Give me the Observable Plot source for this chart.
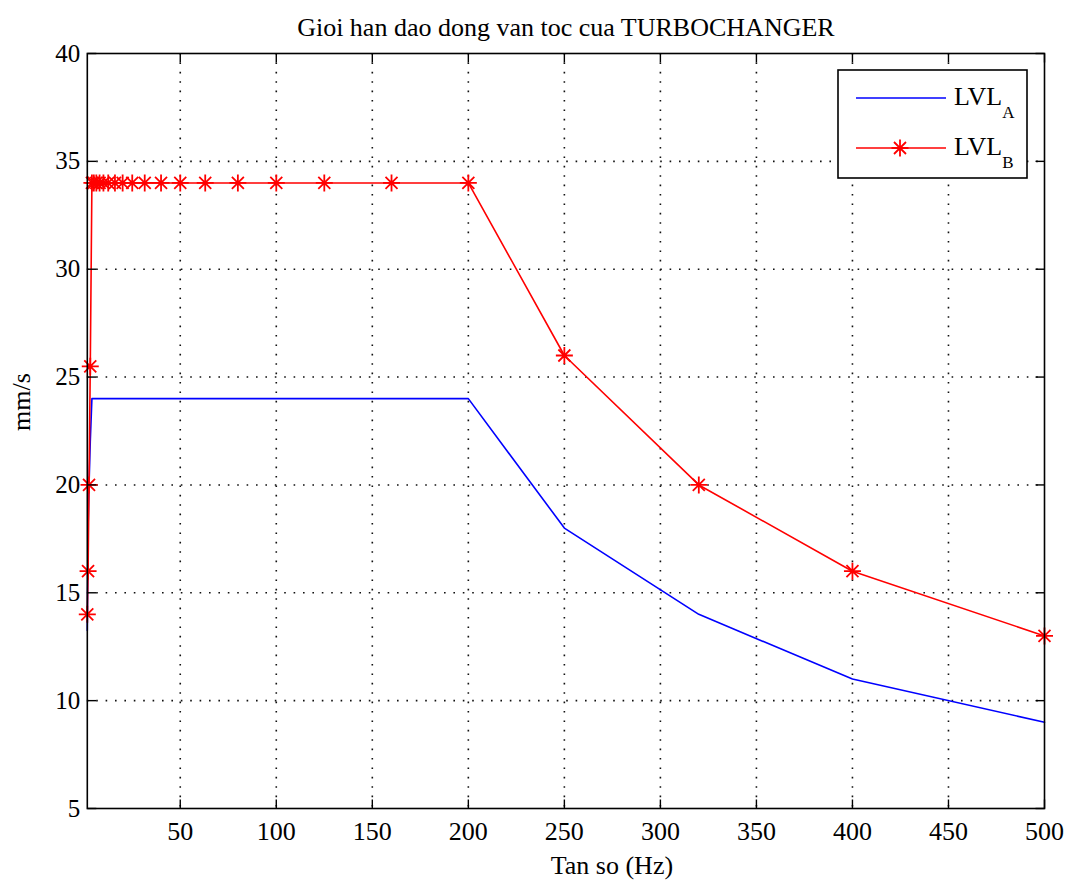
<!DOCTYPE html>
<html>
<head>
<meta charset="utf-8">
<script src="https://cdn.jsdelivr.net/npm/d3@7"></script>
<script src="https://cdn.jsdelivr.net/npm/@observablehq/plot@0.6"></script>
<style>
  html, body { margin: 0; padding: 0; background: #ffffff; }
  #chart { width: 1068px; height: 883px; }
</style>
</head>
<body>
<div id="chart"></div>
<script>
// ---- data ----
const title = "Gioi han dao dong van toc cua TURBOCHANGER";
const xLabel = "Tan so (Hz)";
const yLabel = "mm/s";
const seriesNames = ["LVL", "LVL"];
const seriesSubs = ["A", "B"];
const seriesColors = ["#0000ff", "#ff0000"];

const freq = [1.6, 2, 2.5, 3.15, 4, 5, 6.3, 8, 10, 12.5, 16, 20, 25, 31.5, 40, 50, 63, 80, 100, 125, 160, 200, 250, 320, 400, 500];
const lvlA = [13.25, 18, 20, 22, 24, 24, 24, 24, 24, 24, 24, 24, 24, 24, 24, 24, 24, 24, 24, 24, 24, 24, 18, 14, 11, 9];
const lvlB = [14, 16, 20, 25.5, 34, 34, 34, 34, 34, 34, 34, 34, 34, 34, 34, 34, 34, 34, 34, 34, 34, 34, 26, 20, 16, 13];

const xDomain = [1.6, 500];
const yDomain = [5, 40];
const xTicks = [50, 100, 150, 200, 250, 300, 350, 400, 450, 500];
const yTicks = [5, 10, 15, 20, 25, 30, 35, 40];

// ---- build table ----
const rowsA = freq.map((f, i) => ({f, v: lvlA[i]}));
const rowsB = freq.map((f, i) => ({f, v: lvlB[i]}));

// ---- custom symbols ----
const A = 8.5, B = 6;
const starSymbol = {draw(ctx) {
  ctx.moveTo(-A, 0); ctx.lineTo(A, 0);
  ctx.moveTo(0, -A); ctx.lineTo(0, A);
  ctx.moveTo(-B, -B); ctx.lineTo(B, B);
  ctx.moveTo(-B, B); ctx.lineTo(B, -B);
}};
const T = 9;
const tickUp = {draw(ctx) { ctx.moveTo(0, 0); ctx.lineTo(0, -T); }};
const tickDown = {draw(ctx) { ctx.moveTo(0, 0); ctx.lineTo(0, T); }};
const tickRight = {draw(ctx) { ctx.moveTo(0, 0); ctx.lineTo(T, 0); }};
const tickLeft = {draw(ctx) { ctx.moveTo(0, 0); ctx.lineTo(-T, 0); }};

const font = "'Liberation Serif', 'Times New Roman', serif";
const gridStyle = {stroke: "#111", strokeOpacity: 1, strokeWidth: 1.6, strokeDasharray: "1.6,7.8"};

const svg = Plot.plot({
  width: 1068,
  height: 883,
  marginLeft: 86.8,
  marginRight: 24,
  marginTop: 53,
  marginBottom: 75,
  style: {fontFamily: font, background: "#ffffff", color: "#000"},
  x: {domain: xDomain, type: "linear"},
  y: {domain: yDomain, type: "linear"},
  marks: [
    Plot.gridX(xTicks.filter(d => d < xDomain[1]), gridStyle),
    Plot.gridY(yTicks.filter(d => d > yDomain[0] && d < yDomain[1]), gridStyle),
    Plot.line(rowsA, {x: "f", y: "v", stroke: seriesColors[0], strokeWidth: 1.6}),
    Plot.line(rowsB, {x: "f", y: "v", stroke: seriesColors[1], strokeWidth: 1.6}),
    Plot.dot(rowsB, {x: "f", y: "v", symbol: starSymbol, stroke: seriesColors[1], fill: "none", strokeWidth: 1.8}),
    Plot.frame({stroke: "#000", strokeWidth: 1.6}),
    Plot.dot(xTicks, {x: d => d, y: yDomain[0], symbol: tickUp, stroke: "#000", strokeWidth: 1.4}),
    Plot.dot(xTicks, {x: d => d, y: yDomain[1], symbol: tickDown, stroke: "#000", strokeWidth: 1.4}),
    Plot.dot(yTicks, {x: xDomain[0], y: d => d, symbol: tickRight, stroke: "#000", strokeWidth: 1.4}),
    Plot.dot(yTicks, {x: xDomain[1], y: d => d, symbol: tickLeft, stroke: "#000", strokeWidth: 1.4}),
    Plot.axisX({ticks: xTicks, tickSize: 0, tickPadding: 13, fontSize: 26, label: null}),
    Plot.axisY({ticks: yTicks, tickSize: 0, tickPadding: 7, fontSize: 25, label: null}),
    Plot.text([title], {text: d => d, frameAnchor: "top", dy: -26, fontSize: 26, lineAnchor: "middle"}),
    Plot.text([xLabel], {text: d => d, frameAnchor: "bottom", dx: 46, dy: 57, fontSize: 26, lineAnchor: "middle"}),
    Plot.text([yLabel], {text: d => d, frameAnchor: "left", dx: -66, rotate: -90, fontSize: 26, lineAnchor: "middle"})
  ]
});

// ---- legend ----
const g = d3.select(svg).append("g").attr("font-family", font).attr("text-anchor", "start");
g.append("rect")
  .attr("x", 838).attr("y", 70).attr("width", 189).attr("height", 108)
  .attr("fill", "#fff").attr("stroke", "#000").attr("stroke-width", 1.6);
seriesNames.forEach((name, i) => {
  const y = 98 + i * 50;
  g.append("line")
    .attr("x1", 856).attr("x2", 946).attr("y1", y).attr("y2", y)
    .attr("stroke", seriesColors[i]).attr("stroke-width", 1.6);
  if (i === 1) {
    const p = d3.path();
    starSymbol.draw(p);
    g.append("path").attr("d", p.toString())
      .attr("transform", `translate(900,${y})`)
      .attr("stroke", seriesColors[i]).attr("stroke-width", 1.8).attr("fill", "none");
  }
  const t = g.append("text").attr("x", 954).attr("y", y + 7).attr("font-size", 26).attr("fill", "#000");
  t.append("tspan").text(name);
  t.append("tspan").attr("dy", 13).attr("font-size", 17).text(seriesSubs[i]);
});

document.getElementById("chart").appendChild(svg);
</script>
</body>
</html>
